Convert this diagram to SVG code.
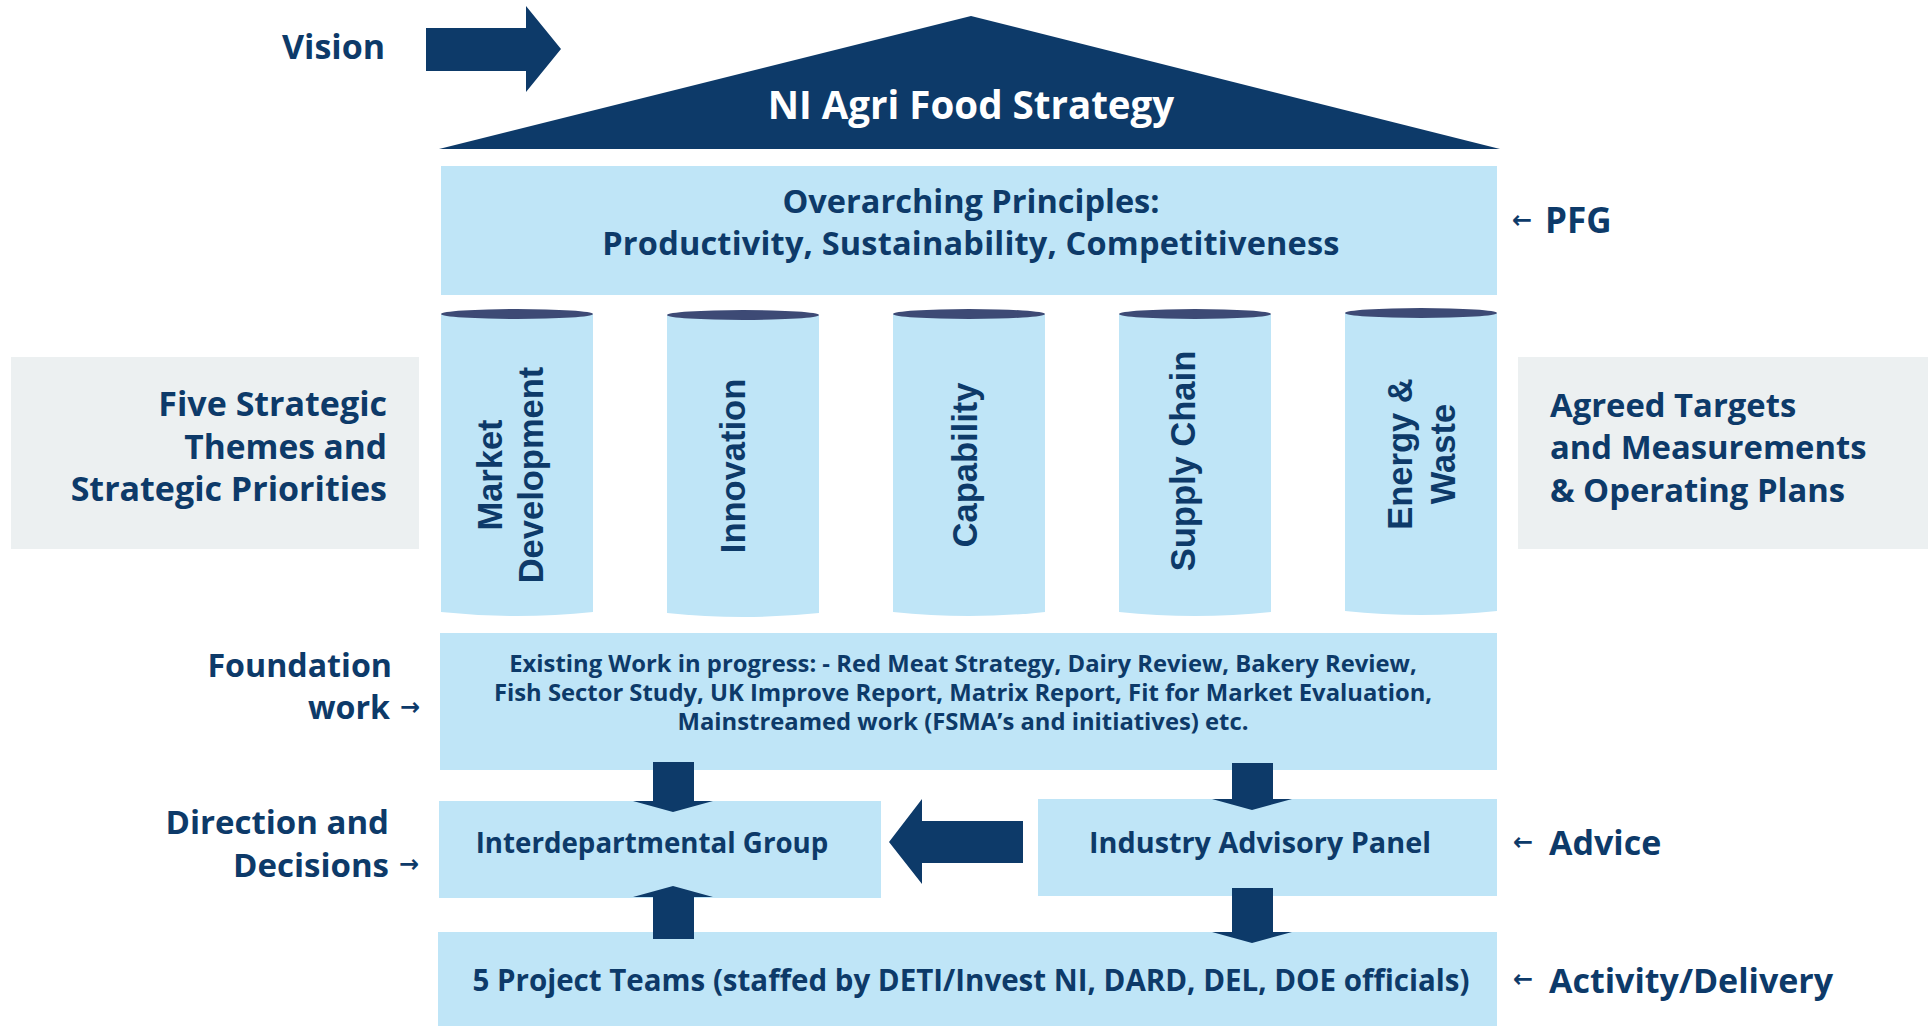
<svg xmlns="http://www.w3.org/2000/svg" width="1928" height="1026" viewBox="0 0 1928 1026">
  <defs>
    <style>
      .lb { fill: #bfe5f7; }
      .grey { fill: #ecf0f1; }
      .navy { fill: #0d3a69; }
      .cap { fill: #3d4a75; }
      .t { font-family: "Open Sans", "Liberation Sans", sans-serif; font-weight: 700; fill: #0d3a69; }
      .col { font-family: "Liberation Sans", Arial, sans-serif; font-weight: 700; font-size: 34.5px; fill: #0d3a69; text-anchor: middle; }
      .arw { font-family: "DejaVu Sans", sans-serif; font-weight: 700; font-size: 24px; fill: #0d3a69; }
      .mid { text-anchor: middle; }
      .end { text-anchor: end; }
    </style>
    <!-- pillar: body with a slightly rounded foot, dark lid on top -->
    <g id="pillar">
      <path class="lb" d="M0,0 H152 V298 Q76,306 0,298 Z"/>
      <ellipse class="cap" cx="76" cy="0" rx="76" ry="5"/>
    </g>
  </defs>

  <rect width="1928" height="1026" fill="#ffffff"/>

  <!-- Vision pointer and label -->
  <g id="vision">
    <text class="t" x="282" y="59" font-size="34">Vision</text>
    <polygon class="navy" points="426,28 526,28 526,6 561,49 526,92 526,71 426,71"/>
  </g>

  <!-- Roof -->
  <g id="roof">
    <polygon class="navy" points="439,149 971,16 1500,149"/>
    <text class="t mid" x="971" y="119" font-size="38.5" style="fill:#ffffff">NI Agri Food Strategy</text>
  </g>

  <!-- Overarching principles band (tspans kept adjacent so no stray spaces shift the lines) -->
  <g id="principles">
    <rect class="lb" x="441" y="166" width="1056" height="129"/>
    <text class="t mid" font-size="32.5"><tspan x="971" y="213">Overarching Principles:</tspan><tspan x="971" y="255" letter-spacing="0.2">Productivity, Sustainability, Competitiveness</tspan></text>
  </g>

  <g id="pfg">
    <text class="arw" x="1512" y="228">←</text>
    <text class="t" x="1545" y="233" font-size="35">PFG</text>
  </g>

  <!-- Side panels -->
  <g id="themes">
    <rect class="grey" x="11" y="357" width="408" height="192"/>
    <text class="t end" font-size="34"><tspan x="387" y="416">Five Strategic</tspan><tspan x="387" y="459" font-size="33.5">Themes and</tspan><tspan x="387" y="501">Strategic Priorities</tspan></text>
  </g>

  <g id="targets">
    <rect class="grey" x="1518" y="357" width="410" height="192"/>
    <text class="t" font-size="32.8"><tspan x="1550" y="417">Agreed Targets</tspan><tspan x="1550" y="459">and Measurements</tspan><tspan x="1550" y="502">&amp; Operating Plans</tspan></text>
  </g>

  <!-- Five pillars -->
  <g id="pillar-market">
    <use href="#pillar" x="441" y="314"/>
    <text class="col" transform="translate(502,475) rotate(-90)">Market</text>
    <text class="col" transform="translate(543,475) rotate(-90)">Development</text>
  </g>
  <g id="pillar-innovation">
    <use href="#pillar" x="667" y="315"/>
    <text class="col" transform="translate(745,466) rotate(-90)">Innovation</text>
  </g>
  <g id="pillar-capability">
    <use href="#pillar" x="893" y="314"/>
    <text class="col" transform="translate(977,465) rotate(-90)">Capability</text>
  </g>
  <g id="pillar-supply">
    <use href="#pillar" x="1119" y="314"/>
    <text class="col" transform="translate(1195,461) rotate(-90)">Supply Chain</text>
  </g>
  <g id="pillar-energy">
    <use href="#pillar" x="1345" y="313"/>
    <text class="col" transform="translate(1412,454) rotate(-90)">Energy &amp;</text>
    <text class="col" transform="translate(1455,454) rotate(-90)">Waste</text>
  </g>

  <!-- Foundation work -->
  <g id="foundation-label">
    <text class="t end" font-size="32.2"><tspan x="392" y="677">Foundation</tspan><tspan x="390" y="719">work</tspan></text>
    <text class="arw" x="400" y="715">→</text>
  </g>
  <g id="foundation">
    <rect class="lb" x="440" y="633" width="1057" height="137"/>
    <text class="t mid" font-size="23.8"><tspan x="963" y="672">Existing Work in progress: - Red Meat Strategy, Dairy Review, Bakery Review,</tspan><tspan x="963" y="701">Fish Sector Study, UK Improve Report, Matrix Report, Fit for Market Evaluation,</tspan><tspan x="963" y="730">Mainstreamed work (FSMA’s and initiatives) etc.</tspan></text>
  </g>

  <!-- Governance -->
  <g id="direction-label">
    <text class="t end" font-size="33"><tspan x="389" y="834">Direction and</tspan><tspan x="389" y="877">Decisions</tspan></text>
    <text class="arw" x="399" y="872">→</text>
  </g>
  <g id="interdepartmental">
    <rect class="lb" x="439" y="801" width="442" height="97"/>
    <text class="t mid" x="652" y="853" font-size="27.7">Interdepartmental Group</text>
  </g>
  <g id="industry-panel">
    <rect class="lb" x="1038" y="799" width="459" height="97"/>
    <text class="t mid" x="1260" y="853" font-size="28.8">Industry Advisory Panel</text>
  </g>
  <g id="advice">
    <text class="arw" x="1513" y="850">←</text>
    <text class="t" x="1549" y="855" font-size="34">Advice</text>
  </g>

  <g id="project-teams">
    <rect class="lb" x="438" y="932" width="1059" height="94"/>
    <text class="t mid" x="971" y="991" font-size="29.5">5 Project Teams (staffed by DETI/Invest NI, DARD, DEL, DOE officials)</text>
  </g>
  <g id="activity">
    <text class="arw" x="1513" y="987">←</text>
    <text class="t" x="1549" y="993" font-size="34">Activity/Delivery</text>
  </g>

  <!-- Block arrows between the lower boxes -->
  <g id="connectors" class="navy">
    <polygon points="653,762 694,762 694,801 713,801 673,812 633,801 653,801"/>
    <polygon points="653,939 694,939 694,897 713,897 673,886 633,897 653,897"/>
    <polygon points="1232,763 1273,763 1273,799 1292,799 1252,810 1212,799 1232,799"/>
    <polygon points="1232,888 1273,888 1273,932 1292,932 1252,943 1212,932 1232,932"/>
    <polygon points="1023,821 922,821 922,799 889,842 922,884 922,863 1023,863"/>
  </g>
</svg>
